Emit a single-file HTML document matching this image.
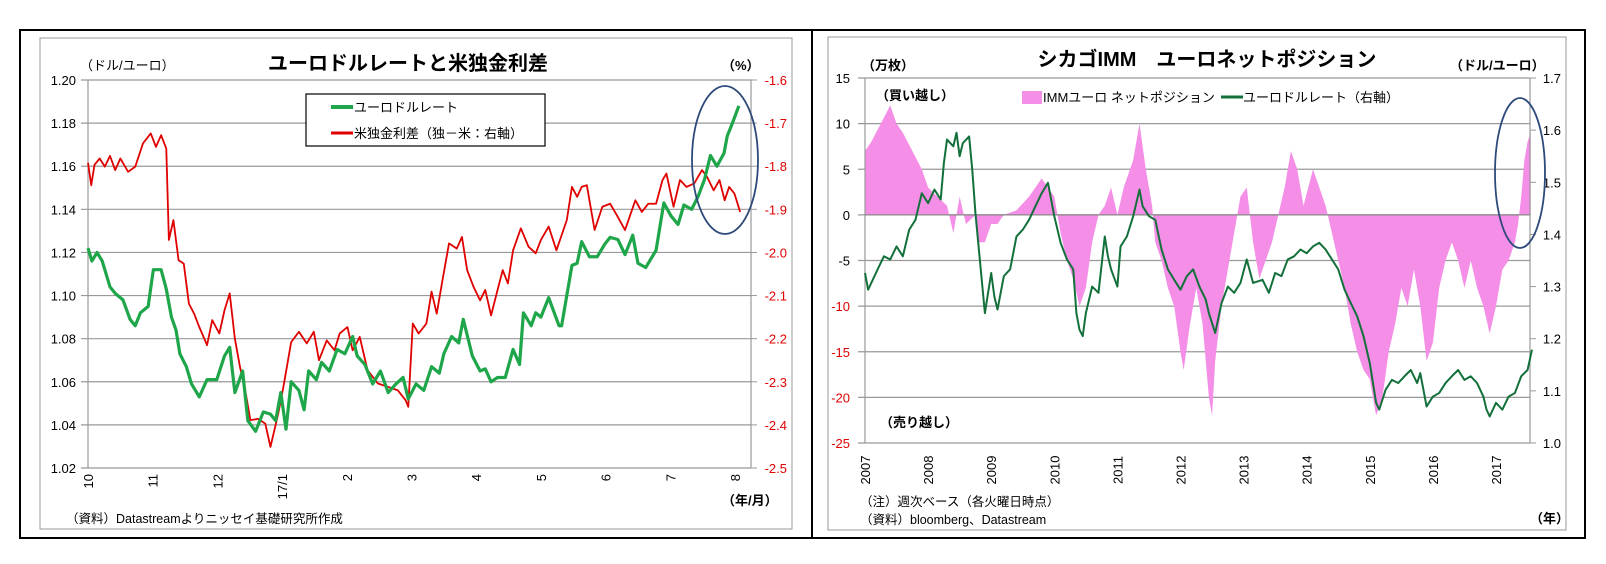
<!DOCTYPE html>
<html><head><meta charset="utf-8"><style>
html,body{margin:0;padding:0;background:#fff;}
svg{display:block;font-family:"Liberation Sans","Noto Sans CJK JP",sans-serif;}
</style></head><body>
<svg id="c" width="1606" height="564" viewBox="0 0 1606 564" xmlns="http://www.w3.org/2000/svg">
<rect x="20" y="30" width="1565" height="508" fill="none" stroke="#000" stroke-width="2"/>
<line x1="812" y1="30" x2="812" y2="538" stroke="#000" stroke-width="2"/>
<rect x="40" y="38" width="752" height="491" fill="none" stroke="#999"/>
<rect x="828" y="37" width="738" height="493" fill="none" stroke="#999"/>
<g id="L"></g>
<g id="R"></g>
</svg>
<script>
// ---------- Left chart data ----------
const lTicksLeft=[1.02,1.04,1.06,1.08,1.10,1.12,1.14,1.16,1.18,1.20];
const lTicksRight=[-2.5,-2.4,-2.3,-2.2,-2.1,-2.0,-1.9,-1.8,-1.7,-1.6];
const lMonths=["10","11","12","17/1","2","3","4","5","6","7","8"];
const eurT=[0,.06,.14,.22,.34,.42,.54,.65,.73,.81,.93,1.01,1.13,1.21,1.29,1.36,1.42,1.52,1.60,1.72,1.84,1.99,2.11,2.19,2.27,2.39,2.47,2.59,2.71,2.82,2.90,2.98,3.06,3.14,3.26,3.34,3.41,3.53,3.61,3.73,3.85,3.97,4.09,4.16,4.28,4.40,4.52,4.64,4.76,4.87,4.95,5.07,5.19,5.31,5.43,5.50,5.62,5.73,5.80,5.94,6.06,6.14,6.23,6.33,6.45,6.57,6.67,6.73,6.85,6.92,7.00,7.12,7.28,7.32,7.48,7.56,7.63,7.75,7.87,7.99,8.07,8.19,8.30,8.42,8.50,8.62,8.78,8.90,9.01,9.12,9.21,9.33,9.43,9.53,9.62,9.72,9.83,9.88,9.96,10.06];
const eurV=[1.122,1.116,1.120,1.116,1.104,1.101,1.098,1.089,1.086,1.092,1.095,1.112,1.112,1.103,1.090,1.084,1.073,1.067,1.059,1.053,1.061,1.061,1.072,1.076,1.055,1.065,1.042,1.037,1.046,1.045,1.042,1.055,1.038,1.060,1.056,1.047,1.065,1.061,1.069,1.065,1.075,1.073,1.081,1.072,1.068,1.059,1.065,1.055,1.059,1.062,1.052,1.059,1.056,1.067,1.064,1.073,1.081,1.078,1.089,1.072,1.065,1.066,1.060,1.062,1.062,1.075,1.068,1.092,1.086,1.092,1.090,1.099,1.086,1.086,1.114,1.115,1.125,1.118,1.118,1.124,1.127,1.126,1.119,1.128,1.115,1.113,1.121,1.143,1.137,1.133,1.142,1.140,1.146,1.154,1.165,1.160,1.166,1.174,1.180,1.188];
const sprT=[0,.05,.10,.18,.26,.34,.42,.50,.62,.73,.85,.97,1.05,1.13,1.21,1.25,1.32,1.40,1.48,1.56,1.64,1.72,1.84,1.92,2.03,2.11,2.19,2.27,2.35,2.43,2.51,2.63,2.74,2.82,2.94,3.02,3.14,3.26,3.38,3.49,3.57,3.69,3.81,3.89,4.01,4.09,4.20,4.32,4.48,4.64,4.79,4.91,4.95,5.02,5.11,5.23,5.31,5.39,5.47,5.58,5.70,5.78,5.86,5.96,6.06,6.14,6.23,6.33,6.41,6.49,6.57,6.69,6.81,6.92,7.00,7.12,7.24,7.40,7.48,7.56,7.63,7.71,7.83,7.95,8.07,8.19,8.30,8.46,8.56,8.66,8.78,8.88,8.94,9.05,9.15,9.25,9.37,9.49,9.57,9.67,9.76,9.84,9.91,9.99,10.08];
const sprV=[-1.792,-1.844,-1.797,-1.782,-1.801,-1.776,-1.809,-1.782,-1.813,-1.801,-1.747,-1.724,-1.755,-1.728,-1.759,-1.971,-1.925,-2.018,-2.026,-2.119,-2.142,-2.173,-2.215,-2.157,-2.188,-2.134,-2.095,-2.200,-2.266,-2.320,-2.389,-2.386,-2.397,-2.451,-2.374,-2.312,-2.208,-2.184,-2.211,-2.184,-2.250,-2.204,-2.227,-2.188,-2.173,-2.227,-2.196,-2.273,-2.304,-2.312,-2.320,-2.343,-2.358,-2.165,-2.188,-2.165,-2.091,-2.142,-2.072,-1.979,-1.991,-1.964,-2.041,-2.080,-2.111,-2.087,-2.146,-2.087,-2.041,-2.072,-1.995,-1.944,-1.987,-2.002,-1.971,-1.940,-1.995,-1.925,-1.848,-1.871,-1.848,-1.844,-1.948,-1.894,-1.887,-1.918,-1.948,-1.879,-1.906,-1.887,-1.887,-1.832,-1.817,-1.894,-1.832,-1.848,-1.840,-1.809,-1.825,-1.856,-1.832,-1.879,-1.848,-1.863,-1.906];
// ---------- Right chart data ----------
const rTicksLeft=[-25,-20,-15,-10,-5,0,5,10,15];
const rTicksRight=["1.0","1.1","1.2","1.3","1.4","1.5","1.6","1.7"];
const rYears=["2007","2008","2009","2010","2011","2012","2013","2014","2015","2016","2017"];
const posT=[2007.0,2007.1,2007.25,2007.4,2007.5,2007.6,2007.75,2007.9,2008.0,2008.15,2008.3,2008.4,2008.5,2008.6,2008.75,2008.8,2008.9,2009.0,2009.1,2009.2,2009.4,2009.6,2009.8,2009.9,2010.0,2010.1,2010.2,2010.3,2010.4,2010.5,2010.6,2010.7,2010.8,2010.9,2011.0,2011.1,2011.25,2011.35,2011.45,2011.55,2011.6,2011.7,2011.8,2011.9,2012.0,2012.05,2012.15,2012.25,2012.35,2012.45,2012.5,2012.55,2012.65,2012.75,2012.85,2012.95,2013.05,2013.15,2013.25,2013.35,2013.45,2013.55,2013.65,2013.75,2013.85,2013.95,2014.1,2014.2,2014.3,2014.4,2014.5,2014.6,2014.7,2014.8,2014.9,2015.0,2015.1,2015.2,2015.3,2015.4,2015.5,2015.6,2015.7,2015.8,2015.9,2016.0,2016.1,2016.2,2016.3,2016.4,2016.5,2016.6,2016.7,2016.8,2016.9,2017.0,2017.1,2017.2,2017.3,2017.35,2017.4,2017.45,2017.5,2017.55];
const posV=[7,8,10,12,10,9,7,5,3,2,1,-2,2,-1,0,-3,-3,-1,-1,0,0.5,2,4,3,2,-2,-5,-7,-10,-8,-3,0,1,3,0,3,6,10,5,1,-3,-5,-8,-10,-15,-17,-12,-8,-12,-20,-22,-16,-10,-6,-2,2,3,-3,-7,-5,-3,0,3,7,5,1,5,3,1,-2,-5,-8,-12,-15,-17,-18,-22,-20,-15,-12,-8,-10,-6,-10,-16,-14,-8,-5,-3,-5,-8,-5,-8,-10,-13,-10,-6,-5,-3,-1,2,6,8,9];
const fxT=[2007.0,2007.05,2007.2,2007.3,2007.4,2007.5,2007.6,2007.7,2007.8,2007.9,2008.0,2008.1,2008.2,2008.25,2008.3,2008.4,2008.45,2008.5,2008.55,2008.65,2008.7,2008.75,2008.85,2008.9,2009.0,2009.05,2009.1,2009.2,2009.3,2009.4,2009.5,2009.6,2009.7,2009.8,2009.9,2010.0,2010.1,2010.2,2010.3,2010.35,2010.4,2010.45,2010.5,2010.6,2010.7,2010.8,2010.85,2010.9,2011.0,2011.05,2011.15,2011.25,2011.35,2011.4,2011.5,2011.6,2011.7,2011.8,2011.9,2012.0,2012.1,2012.2,2012.3,2012.4,2012.45,2012.55,2012.65,2012.75,2012.85,2012.95,2013.05,2013.15,2013.3,2013.4,2013.5,2013.6,2013.7,2013.8,2013.9,2014.0,2014.1,2014.2,2014.3,2014.4,2014.5,2014.6,2014.7,2014.8,2014.9,2015.0,2015.1,2015.15,2015.25,2015.35,2015.45,2015.55,2015.65,2015.75,2015.8,2015.9,2016.0,2016.1,2016.2,2016.3,2016.4,2016.5,2016.6,2016.7,2016.8,2016.85,2016.9,2017.0,2017.1,2017.2,2017.3,2017.4,2017.5,2017.57];
const fxV=[1.326,1.294,1.333,1.358,1.352,1.377,1.358,1.409,1.428,1.479,1.460,1.486,1.467,1.537,1.582,1.569,1.595,1.550,1.575,1.588,1.524,1.441,1.313,1.249,1.326,1.281,1.256,1.320,1.333,1.396,1.409,1.428,1.454,1.479,1.499,1.435,1.384,1.352,1.333,1.249,1.217,1.205,1.249,1.300,1.288,1.396,1.358,1.333,1.300,1.377,1.396,1.435,1.486,1.454,1.435,1.428,1.371,1.333,1.313,1.294,1.320,1.333,1.300,1.275,1.249,1.211,1.268,1.300,1.288,1.307,1.352,1.307,1.313,1.288,1.326,1.320,1.352,1.358,1.371,1.364,1.377,1.384,1.371,1.352,1.333,1.294,1.268,1.243,1.205,1.153,1.077,1.064,1.102,1.121,1.115,1.128,1.140,1.115,1.134,1.070,1.089,1.096,1.115,1.128,1.140,1.121,1.128,1.115,1.089,1.064,1.051,1.077,1.064,1.089,1.096,1.128,1.140,1.179];

const NS="http://www.w3.org/2000/svg";
function mk(parent,tag,attrs,text){const e=document.createElementNS(NS,tag);for(const k in attrs)e.setAttribute(k,attrs[k]);if(text!==undefined)e.textContent=text;parent.appendChild(e);return e;}

// ---------- Left chart ----------
const L=document.getElementById('L');
const lx=t=>88+t*64.7;
const lyL=v=>468-(v-1.02)/0.18*388;
const lyR=v=>468-(v+2.5)/0.9*388;
lTicksLeft.forEach(v=>{
  const g=mk(L,'line',{x1:81,x2:751,y1:lyL(v),y2:lyL(v),stroke:'#999','stroke-width':1.2});
  
  
  const t=mk(L,'text',{x:76,y:lyL(v)+5,'text-anchor':'end','font-size':13,fill:'#000'},v.toFixed(2));
  
  
});
lTicksRight.forEach(v=>{
  const t=mk(L,'text',{x:787,y:lyR(v)+5,'text-anchor':'end','font-size':13,fill:'#e00000'},v.toFixed(1));
  
  
  const k=mk(L,'line',{x1:751,x2:757,y1:lyR(v),y2:lyR(v),stroke:'#999'});
  
  
});
const la1=mk(L,'line',{x1:88,x2:88,y1:80,y2:468,stroke:'#999','stroke-width':1.2});


const la2=mk(L,'line',{x1:751,x2:751,y1:80,y2:468,stroke:'#999','stroke-width':1.2});


lMonths.forEach((m,i)=>{
  const x=lx(i);
  const t=mk(L,'text',{x:0,y:0,'text-anchor':'end','font-size':13,transform:`translate(${x+5},474) rotate(-90)`},m);
  
  
});
const sp=mk(L,'polyline',{points:sprT.map((t,i)=>lx(t)+','+lyR(sprV[i])).join(' '),fill:'none',stroke:'#e00000','stroke-width':1.8,'stroke-linejoin':'round'});


const eu=mk(L,'polyline',{points:eurT.map((t,i)=>lx(t)+','+lyL(eurV[i])).join(' '),fill:'none',stroke:'#1fa64a','stroke-width':3.2,'stroke-linejoin':'round'});


</script>
<script>
(function(){
const L=document.getElementById('L');
function mk(tag,attrs,text){const e=document.createElementNS("http://www.w3.org/2000/svg",tag);for(const k in attrs)e.setAttribute(k,attrs[k]);if(text!==undefined)e.textContent=text;L.appendChild(e);return e;}
let e;
e=mk('text',{x:408,y:70,'text-anchor':'middle','font-size':20,'font-weight':'bold'},'ユーロドルレートと米独金利差');


e=mk('text',{x:80,y:70,'font-size':13},'（ドル/ユーロ）');


e=mk('text',{x:722,y:70,'font-size':13,'font-weight':'bold'},'（%）');


e=mk('rect',{x:306,y:94,width:239,height:52,fill:'#fff',stroke:'#000','stroke-width':1.2});


e=mk('line',{x1:331,x2:353,y1:107,y2:107,stroke:'#1fa64a','stroke-width':4});


e=mk('text',{x:354,y:112,'font-size':13},'ユーロドルレート');


e=mk('line',{x1:331,x2:353,y1:133,y2:133,stroke:'#e00000','stroke-width':3});


e=mk('text',{x:354,y:138,'font-size':13},'米独金利差（独－米：右軸）');


e=mk('ellipse',{cx:725,cy:160,rx:33,ry:74,fill:'none',stroke:'#2e4a7a','stroke-width':1.8});


e=mk('text',{x:722,y:505,'font-size':13,'font-weight':'bold'},'（年/月）');


e=mk('text',{x:66,y:523,'font-size':12.5},'（資料）Datastreamよりニッセイ基礎研究所作成');


})();
</script>
<script>
(function(){
const R=document.getElementById('R');
function mk(tag,attrs,text){const e=document.createElementNS("http://www.w3.org/2000/svg",tag);for(const k in attrs)e.setAttribute(k,attrs[k]);if(text!==undefined)e.textContent=text;R.appendChild(e);return e;}
const rx=y=>865+(y-2007)*63.1;
const ryL=v=>443-(v+25)/40*365;
const ryR=v=>443-(v-1.0)/0.7*365;
const xEnd=1530;
let e;
rTicksLeft.forEach(v=>{
  e=mk('line',{x1:858,x2:xEnd,y1:ryL(v),y2:ryL(v),stroke:'#999','stroke-width':1.2});
  
  
  e=mk('text',{x:850,y:ryL(v)+5,'text-anchor':'end','font-size':13,fill:v<=-10?'#e00000':'#000'},String(v));
  
  
});
rTicksRight.forEach(v=>{
  const y=ryR(parseFloat(v));
  e=mk('line',{x1:xEnd,x2:xEnd+6,y1:y,y2:y,stroke:'#999'});
  
  
  e=mk('text',{x:1561,y:y+5,'text-anchor':'end','font-size':13},v);
  
  
});
const z=ryL(0);
let pts=rx(posT[0])+','+z+' ';
pts+=posT.map((t,i)=>rx(t)+','+ryL(posV[i])).join(' ');
pts+=' '+rx(posT[posT.length-1])+','+z;
e=mk('polygon',{points:pts,fill:'#f48ee6'});


e=mk('line',{x1:865,x2:865,y1:78,y2:443,stroke:'#999','stroke-width':1.2});


e=mk('line',{x1:xEnd,x2:xEnd,y1:78,y2:443,stroke:'#999','stroke-width':1.2});


e=mk('line',{x1:865,x2:xEnd,y1:z,y2:z,stroke:'#888','stroke-width':1.2});


rYears.forEach((yr,i)=>{
  const x=rx(2007+i);
  e=mk('text',{x:0,y:0,'text-anchor':'middle','font-size':13,transform:`translate(${x+5},470) rotate(-90)`},yr);
  
  
});
e=mk('polyline',{points:fxT.map((t,i)=>rx(t)+','+ryR(fxV[i])).join(' '),fill:'none',stroke:'#13703a','stroke-width':2,'stroke-linejoin':'round'});


e=mk('text',{x:1207,y:66,'text-anchor':'middle','font-size':20,'font-weight':'bold'},'シカゴIMM　ユーロネットポジション');


e=mk('text',{x:862,y:70,'font-size':13,'font-weight':'bold'},'（万枚）');


e=mk('text',{x:1450,y:70,'font-size':13,'font-weight':'bold'},'（ドル/ユーロ）');


e=mk('text',{x:876,y:100,'font-size':13,'font-weight':'bold'},'（買い越し）');


e=mk('text',{x:880,y:427,'font-size':13,'font-weight':'bold'},'（売り越し）');


e=mk('rect',{x:1022,y:91,width:20,height:13,fill:'#f48ee6'});


e=mk('text',{x:1043,y:102,'font-size':13},'IMMユーロ ネットポジション');


e=mk('line',{x1:1221,x2:1243,y1:97,y2:97,stroke:'#13703a','stroke-width':3});


e=mk('text',{x:1243,y:102,'font-size':13},'ユーロドルレート（右軸）');


e=mk('ellipse',{cx:1520,cy:173,rx:25,ry:75,fill:'none',stroke:'#2e4a7a','stroke-width':1.8});


e=mk('text',{x:860,y:506,'font-size':12.5},'（注）週次ベース（各火曜日時点）');


e=mk('text',{x:860,y:524,'font-size':12.5},'（資料）bloomberg、Datastream');


e=mk('text',{x:1530,y:523,'font-size':13,'font-weight':'bold'},'（年）');


})();
</script>
</body></html>
